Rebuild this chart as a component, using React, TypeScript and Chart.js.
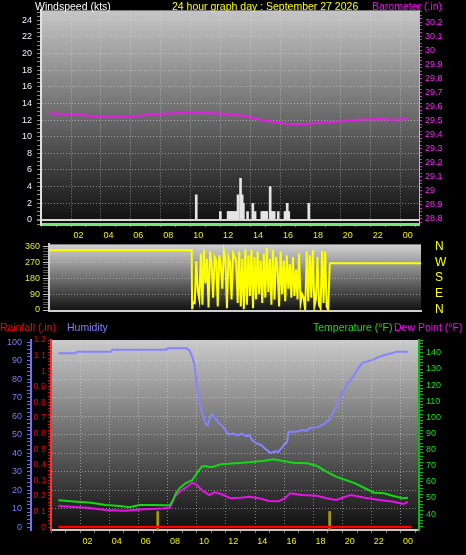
import React, { useEffect, useRef } from 'react';
import { Chart, registerables } from 'chart.js';

Chart.register(...registerables);

// ---------------- Data ----------------
const baroTimes = [0, 1, 2, 3, 4, 5, 6, 7, 8, 9, 10, 11, 12, 13, 14, 15, 16, 17, 18, 19, 20, 21, 22, 23, 24];
const baroValues = [29.552, 29.548, 29.542, 29.532, 29.524, 29.527, 29.535, 29.546, 29.55, 29.556, 29.557, 29.552, 29.545, 29.535, 29.51, 29.49, 29.476, 29.475, 29.484, 29.491, 29.499, 29.508, 29.511, 29.506, 29.511];

const gustTimes = [9.87, 11.48, 12.0, 12.08, 12.17, 12.25, 12.33, 12.42, 12.5, 12.58, 12.66, 12.83, 12.94, 13.02, 13.3, 13.65, 13.8, 14.25, 14.33, 14.42, 14.5, 14.58, 14.81, 14.92, 15.0, 15.08, 15.35, 15.8, 15.88, 15.95, 16.05, 17.39];
const gustValues = [3, 1, 1, 1, 1, 1, 1, 1, 1, 1, 3, 5, 3, 2, 1, 2, 1, 1, 1, 1, 1, 1, 4, 1, 1, 1, 1, 1, 1, 2, 1, 2];

const dirTimes = [0, 9.3, 9.33, 9.4, 9.5, 9.6, 9.7, 9.8, 9.9, 10.0, 10.1, 10.2, 10.3, 10.4, 10.5, 10.6, 10.7, 10.8, 10.9, 11.0, 11.1, 11.2, 11.3, 11.4, 11.5, 11.6, 11.7, 11.8, 11.9, 12.0, 12.1, 12.2, 12.3, 12.4, 12.5, 12.6, 12.7, 12.8, 12.9, 13.0, 13.1, 13.2, 13.3, 13.4, 13.5, 13.6, 13.7, 13.8, 13.9, 14.0, 14.1, 14.2, 14.3, 14.4, 14.5, 14.6, 14.7, 14.8, 14.9, 15.0, 15.1, 15.2, 15.3, 15.4, 15.5, 15.6, 15.7, 15.8, 15.9, 16.0, 16.1, 16.2, 16.3, 16.4, 16.5, 16.6, 16.7, 16.8, 16.9, 17.0, 17.1, 17.2, 17.3, 17.4, 17.5, 17.6, 17.7, 17.8, 17.9, 18.0, 18.1, 18.2, 18.3, 18.35, 24.25];
const dirValues = [338, 338, 5, 45, 40, 275, 110, 60, 320, 30, 340, 150, 290, 15, 330, 260, 70, 300, 280, 20, 310, 250, 120, 335, 290, 10, 300, 270, 60, 320, 300, 280, 40, 330, 20, 290, 5, 345, 30, 310, 80, 340, 10, 300, 60, 330, 90, 280, 40, 320, 70, 350, 100, 290, 30, 340, 60, 300, 240, 20, 330, 90, 280, 50, 310, 120, 260, 70, 300, 80, 230, 60, 320, 40, 90, 70, 0, 330, 50, 310, 70, 340, 20, 60, 300, 30, 10, 335, 40, 330, 20, 0, 260, 265, 265];
const compassDegrees = [0, 90, 180, 270, 360];
const compassNames = ['N', 'E', 'S', 'W', 'N'];

const humTimes = [0, 1.2, 1.3, 3.6, 3.7, 7.4, 7.5, 8.8, 9.0, 9.15, 9.35, 9.5, 9.65, 9.9, 10.1, 10.25, 10.4, 10.55, 10.75, 11.0, 11.2, 11.5, 11.7, 12.0, 12.3, 12.6, 12.9, 13.1, 13.3, 13.6, 13.9, 14.1, 14.4, 14.6, 14.9, 15.1, 15.3, 15.5, 15.7, 15.8, 16.3, 16.8, 17.0, 17.3, 17.8, 18.2, 18.6, 19.0, 19.4, 19.8, 20.2, 20.6, 20.9, 21.2, 21.6, 22.0, 22.4, 22.9, 23.2, 24.0];
const humValues = [93.9, 93.9, 94.8, 94.8, 95.8, 95.8, 96.6, 96.6, 95.5, 93, 87.6, 77, 68, 61, 56, 55, 59, 61, 59, 56.5, 55, 52, 50, 50.5, 49.5, 50.5, 49, 49.8, 47, 45.2, 44.5, 43, 41, 40, 41, 40.5, 42.5, 44.5, 46, 51.5, 51.5, 52.4, 52, 53.5, 54, 55.5, 58, 64, 71, 77, 81, 86, 89, 89.5, 90.5, 92, 93, 93.9, 94.8, 94.8];

const tempTimes = [0, 1.28, 2.27, 3.25, 4.24, 4.9, 5.56, 6.55, 7.2, 7.67, 7.87, 8.07, 8.33, 8.72, 9.18, 9.51, 9.84, 10.04, 10.5, 11.16, 12.15, 13.13, 14.12, 14.78, 15.44, 16.1, 17.09, 17.75, 18.41, 19.06, 19.72, 20.38, 21.04, 21.69, 22.35, 23.0, 23.66, 24.0];
const tempValues = [48.5, 47.6, 47, 45.6, 45, 44.2, 45.6, 45.6, 45.4, 45.6, 48.7, 52.9, 56, 59, 61, 65.3, 69.4, 69.8, 69, 70.9, 71.5, 72.1, 73.1, 74, 72.9, 71.9, 71.5, 69.8, 66.3, 63.2, 61.1, 59, 56, 53.2, 52.9, 51.2, 49.8, 50.1];

const dewTimes = [0, 1.96, 3.25, 4.57, 5.89, 7.2, 7.67, 8.0, 8.33, 8.85, 9.18, 9.51, 9.84, 10.37, 10.7, 11.16, 11.82, 12.48, 13.13, 13.79, 14.45, 15.1, 15.57, 15.9, 16.76, 17.75, 18.41, 19.06, 20.05, 21.04, 22.03, 23.02, 23.68, 24.0];
const dewValues = [45, 43.9, 42.5, 42, 42.9, 43.5, 44.2, 50.7, 53.9, 57, 59.5, 58, 54.9, 51.8, 53.5, 52.4, 49.8, 50.1, 50.7, 49.8, 48.1, 47.9, 49.8, 52.9, 51.8, 51.4, 49.8, 48.7, 51.8, 50.1, 48.7, 47.6, 46.2, 47.6];

const rainTimes = [0, 24.25];
const rainValues = [0, 0];
const rainMarkTimes = [6.82, 18.62];
const rainMarkValues = [0.1, 0.1];

// ---------------- Helpers ----------------
const FONT = "'Liberation Sans', Arial, sans-serif";
const GRID = 'rgba(225,225,225,0.5)';
const NONE = 'rgba(0,0,0,0)';
const DOT = [1, 2];

const pts = (ts: number[], vs: number[]) => ts.map((t, i) => ({ x: t, y: vs[i] }));
const isInt = (v: number) => Math.abs(v - Math.round(v)) < 1e-6;

const hourLabel = (v: number) => {
  if (!isInt(v)) return '';
  const h = Math.round(v);
  if (h <= 0 || h > 24 || h % 2) return '';
  return String(h % 24).padStart(2, '0');
};
const evenHourGrid = (c: any) => {
  const v = c.tick ? c.tick.value : -1;
  return v > 0.5 && v < 24.1 && isInt(v) && Math.round(v) % 2 === 0 ? GRID : NONE;
};

const gradientPlugin = (top: string, bottom: string) => ({
  id: 'plotBg',
  beforeDraw(chart: any) {
    const { ctx, chartArea: a } = chart;
    const g = ctx.createLinearGradient(0, a.top, 0, a.bottom);
    g.addColorStop(0, top);
    g.addColorStop(1, bottom);
    ctx.save();
    ctx.fillStyle = g;
    ctx.fillRect(a.left, a.top, a.right - a.left, a.bottom - a.top);
    ctx.restore();
  },
});

const xHourAxis = (height: number) => ({
  type: 'linear',
  min: 0,
  max: 24.25,
  afterFit: (s: any) => { s.height = height; },
  ticks: { stepSize: 1, autoSkip: false, includeBounds: false, maxRotation: 0, callback: hourLabel, color: '#f2f200', font: { size: 9, family: FONT }, padding: 3 },
  grid: { color: evenHourGrid, tickColor: '#7a7a7a', tickLength: 3 },
  border: { display: false, dash: DOT },
});

const baseOptions = {
  animation: false,
  responsive: false,
  plugins: { legend: { display: false }, tooltip: { enabled: false } },
};

function topConfig(): any {
  return {
    type: 'bar',
    data: {
      datasets: [
        { type: 'line', label: 'Barometer', data: pts(baroTimes, baroValues), yAxisID: 'y2', borderColor: '#e81ce8', borderWidth: 2, pointRadius: 0, order: 0 },
        { type: 'bar', label: 'Windspeed', data: pts(gustTimes, gustValues), yAxisID: 'y', backgroundColor: '#e4e4e4', barThickness: 2, order: 1 },
      ],
    },
    options: {
      ...baseOptions,
      layout: { padding: { top: 10 } },
      scales: {
        x: { ...xHourAxis(21), border: { display: true, color: '#74e874', width: 3, dash: DOT } },
        y: {
          position: 'left', min: -0.5, max: 25.2,
          afterFit: (s: any) => { s.width = 41; },
          ticks: {
            stepSize: 0.5, autoSkip: false, includeBounds: false,
            callback: (v: number) => (isInt(v) && v >= 0 && Math.round(v) % 2 === 0 ? String(Math.round(v)) : ''),
            color: '#eef2ff', font: { size: 9, family: FONT }, padding: 5,
          },
          grid: {
            color: (c: any) => {
              const v = c.tick ? c.tick.value : -1;
              if (Math.abs(v) < 1e-6) return '#d8d8d8';
              return isInt(v) && v > 0 && Math.round(v) % 2 === 0 ? GRID : NONE;
            },
            lineWidth: (c: any) => (c.tick && Math.abs(c.tick.value) < 1e-6 ? 2 : 1),
            tickColor: '#8a8a8a', tickLength: 4,
          },
          border: { color: '#e0e0e0', width: 2, dash: (c: any) => (c.tick && Math.abs(c.tick.value) < 1e-6 ? [] : DOT) },
        },
        y2: {
          position: 'right', min: 28.764, max: 30.285,
          afterFit: (s: any) => { s.width = 47; },
          ticks: {
            stepSize: 0.025, autoSkip: false, includeBounds: false,
            callback: (v: number) => { const k = Math.round(v * 1000); return k % 100 === 0 ? String(k / 1000) : ''; },
            color: '#ff22ff', font: { size: 9, family: FONT }, padding: 3,
          },
          grid: { drawOnChartArea: false, tickColor: '#e020e0', tickLength: 3 },
          border: { color: '#bdbdbd', width: 1 },
        },
      },
    },
    plugins: [gradientPlugin('#c6c6c6', '#0e0e0e')],
  };
}

function midConfig(): any {
  return {
    type: 'line',
    data: {
      datasets: [
        { label: 'Wind direction', data: pts(dirTimes, dirValues), yAxisID: 'y', borderColor: '#ffff00', borderWidth: 2, pointRadius: 0 },
      ],
    },
    options: {
      ...baseOptions,
      layout: { padding: { top: 8 } },
      scales: {
        x: {
          type: 'linear', min: 0, max: 24.25,
          afterFit: (s: any) => { s.height = 9; },
          ticks: { display: false },
          grid: { display: false },
          border: { color: '#cfcfcf', width: 2 },
        },
        y: {
          position: 'left', min: -5.6, max: 371,
          afterFit: (s: any) => { s.width = 49; },
          ticks: {
            stepSize: 15, autoSkip: false, includeBounds: false,
            callback: (v: number) => (isInt(v) && v >= 0 && v <= 360 && Math.round(v) % 90 === 0 ? String(Math.round(v)) : ''),
            color: '#e6e62a', font: { size: 9, family: FONT }, padding: 3,
          },
          grid: {
            color: (c: any) => {
              const v = c.tick ? Math.round(c.tick.value) : -1;
              return v === 90 || v === 180 || v === 270 ? GRID : NONE;
            },
            tickColor: (c: any) => (c.tick && isInt(c.tick.value) && Math.round(c.tick.value) % 90 === 0 ? '#c0c0c0' : '#5a5a5a'),
            tickLength: 6,
          },
          border: { color: '#cfcfcf', width: 2, dash: DOT },
        },
        y2: {
          position: 'right', min: -5.6, max: 371,
          afterFit: (s: any) => { s.width = 45; },
          ticks: {
            stepSize: 90, autoSkip: false, includeBounds: false,
            callback: (v: number) => { const i = compassDegrees.indexOf(Math.round(v)); return i >= 0 && isInt(v) ? compassNames[i] : ''; },
            color: '#ffff00', font: { size: 12, family: FONT }, padding: 0,
          },
          grid: { drawOnChartArea: false, drawTicks: true, tickLength: 14, tickColor: NONE },
          border: { display: false },
        },
      },
    },
    plugins: [gradientPlugin('#d2d2d2', '#101010')],
  };
}

function bottomConfig(): any {
  return {
    type: 'bar',
    data: {
      datasets: [
        { type: 'line', label: 'Humidity', data: pts(humTimes, humValues), yAxisID: 'yH', borderColor: '#8484ff', borderWidth: 2, pointRadius: 0 },
        { type: 'line', label: 'Temperature (°F)', data: pts(tempTimes, tempValues), yAxisID: 'yT', borderColor: '#14d814', borderWidth: 2, pointRadius: 0 },
        { type: 'line', label: 'Dew Point (°F)', data: pts(dewTimes, dewValues), yAxisID: 'yT', borderColor: '#e614e6', borderWidth: 2, pointRadius: 0 },
        { type: 'line', label: 'Rainfall (.in)', data: pts(rainTimes, rainValues), yAxisID: 'yR', borderColor: '#ff0000', borderWidth: 2.5, pointRadius: 0 },
        { type: 'bar', label: 'Rain marks', data: rainMarkTimes.map((t, i) => ({ x: t, y: [-0.02, rainMarkValues[i]] })), yAxisID: 'yR', backgroundColor: '#a89a10', barThickness: 2 },
      ],
    },
    options: {
      ...baseOptions,
      layout: { padding: { top: 22 } },
      scales: {
        x: { ...xHourAxis(25), border: { display: true, color: '#c8c8c8', width: 2, dash: DOT } },
        yH: {
          position: 'left', weight: 2, min: -1.6, max: 101.1,
          afterFit: (s: any) => { s.width = 31; },
          ticks: {
            stepSize: 2, autoSkip: false, includeBounds: false,
            callback: (v: number) => (isInt(v) && v >= 0 && Math.round(v) % 10 === 0 ? String(Math.round(v)) : ''),
            color: '#7c7cff', font: { size: 9, family: FONT }, padding: 5,
          },
          grid: {
            color: (c: any) => {
              const v = c.tick ? c.tick.value : -1;
              return isInt(v) && v > 0 && Math.round(v) % 10 === 0 ? GRID : NONE;
            },
            tickColor: '#7070c8', tickLength: 4,
          },
          border: { color: '#7070ff', width: 2, dash: DOT },
        },
        yR: {
          position: 'left', weight: 1, min: -0.019, max: 1.2,
          afterFit: (s: any) => { s.width = 20; },
          ticks: {
            stepSize: 0.02, autoSkip: false, includeBounds: false,
            callback: (v: number) => { const k = Math.round(v * 100); return Math.abs(v * 100 - k) < 1e-6 && k >= 0 && k % 10 === 0 ? String(k / 100) : ''; },
            color: '#e80000', font: { size: 9, family: FONT }, padding: 2,
          },
          grid: { drawOnChartArea: false, tickColor: '#e00000', tickLength: 3 },
          border: { color: '#ff3030', width: 2 },
        },
        yT: {
          position: 'right', min: 30.1, max: 148,
          afterFit: (s: any) => { s.width = 47; },
          ticks: {
            stepSize: 2, autoSkip: false, includeBounds: false,
            callback: (v: number) => (isInt(v) && Math.round(v) % 10 === 0 && v >= 40 ? String(Math.round(v)) : ''),
            color: '#10e010', font: { size: 9, family: FONT }, padding: 3,
          },
          grid: { drawOnChartArea: false, tickColor: '#00c000', tickLength: 4 },
          border: { color: '#00c000', width: 2 },
        },
      },
    },
    plugins: [gradientPlugin('#cacaca', '#0e0e0e')],
  };
}

function ChartCanvas({ top, height, build }: { top: number; height: number; build: () => any }) {
  const ref = useRef<HTMLCanvasElement>(null);
  useEffect(() => {
    const chart = new Chart(ref.current as HTMLCanvasElement, build());
    return () => chart.destroy();
  }, []);
  return (
    <canvas
      ref={ref}
      width={466}
      height={height}
      style={{ position: 'absolute', left: 0, top, width: 466, height, display: 'block' }}
    />
  );
}

const textStyle = (left: number, top: number, color: string): React.CSSProperties => ({
  position: 'absolute', left, top, color, fontFamily: FONT, fontSize: 10.5, lineHeight: '11px', whiteSpace: 'nowrap',
});

export default function App() {
  return (
    <div style={{ position: 'fixed', left: 0, top: 0, width: 466, height: 555, background: '#000', overflow: 'hidden' }}>
      <ChartCanvas top={0} height={245} build={topConfig} />
      <ChartCanvas top={236} height={84} build={midConfig} />
      <ChartCanvas top={318} height={237} build={bottomConfig} />
      <div style={textStyle(35, 1, '#ffffff')}>Windspeed (kts)</div>
      <div style={textStyle(172, 1, '#ffff00')}>24 hour graph day : September 27 2026</div>
      <div style={textStyle(372, 1, '#ff00ff')}>Barometer (.in)</div>
      <div style={textStyle(0, 322, '#ff0000')}>Rainfall (.in)</div>
      <div style={textStyle(67, 322, '#8080ff')}>Humidity</div>
      <div style={textStyle(313, 322, '#10e010')}>Temperature (°F)</div>
      <div style={textStyle(394, 322, '#ff00ff')}>Dew Point (°F)</div>
    </div>
  );
}
